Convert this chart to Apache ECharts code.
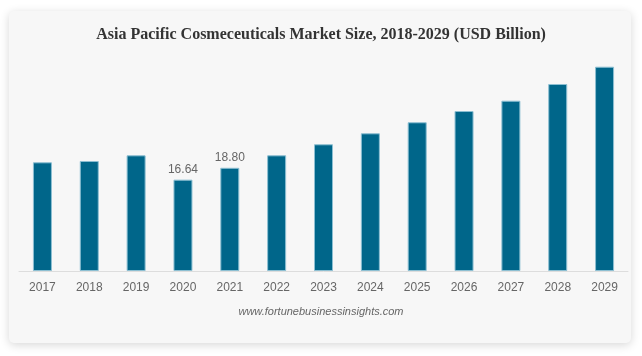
<!DOCTYPE html>
<html>
<head>
<meta charset="utf-8">
<script src="https://cdn.jsdelivr.net/npm/echarts@6/dist/echarts.min.js"></script>
<style>
  html, body { margin: 0; padding: 0; background: #ffffff; width: 642px; height: 356px; overflow: hidden; }
  #card { position: absolute; left: 9px; top: 11px; width: 622px; height: 332px; background: #f7f7f7; border-radius: 5px; box-shadow: 0 2px 10px rgba(0,0,0,0.16); }
  #chart { position: absolute; left: 0; top: 0; width: 642px; height: 356px; }
</style>
</head>
<body>
<div id="card"></div>
<div id="chart"></div>
<script>
const titleText = 'Asia Pacific Cosmeceuticals Market Size, 2018-2029 (USD Billion)';
const sourceText = 'www.fortunebusinessinsights.com';
const years = ['2017','2018','2019','2020','2021','2022','2023','2024','2025','2026','2027','2028','2029'];
const marketSize = [19.80, 20.04, 21.07, 16.64, 18.80, 21.07, 23.08, 25.08, 27.09, 29.14, 31.02, 34.06, 37.21];
const labelledYears = ['2020', '2021'];

const chart = echarts.init(document.getElementById('chart'), null, { renderer: 'canvas' });
chart.setOption({
  backgroundColor: 'transparent',
  animation: false,
  title: {
    text: titleText,
    left: 'center',
    top: 22,
    textStyle: { fontFamily: '"Liberation Serif", "Times New Roman", serif', fontWeight: 'bold', fontSize: 16, color: '#333333' }
  },
  grid: { left: 19, right: 14, top: 51.4, bottom: 85, containLabel: false },
  xAxis: {
    type: 'category',
    data: years,
    axisLine: { lineStyle: { color: '#dddddd', width: 1 } },
    axisTick: { show: false },
    axisLabel: { color: '#666666', fontSize: 12, fontFamily: '"Liberation Sans", Arial, sans-serif', margin: 11 }
  },
  yAxis: { type: 'value', min: 0, max: 40, show: false, splitLine: { show: false } },
  series: [{
    type: 'bar',
    data: marketSize.map((v, i) => ({
      value: v,
      label: { show: labelledYears.includes(years[i]) }
    })),
    barWidth: 19,
    itemStyle: { color: '#00668a', borderColor: '#8cbfd2', borderWidth: 1 },
    label: {
      show: false,
      position: 'top',
      distance: 4,
      color: '#666666',
      fontSize: 12,
      fontFamily: '"Liberation Sans", Arial, sans-serif',
      formatter: p => p.value.toFixed(2)
    }
  }],
  graphic: [{
    type: 'text',
    left: 'center',
    top: 306,
    style: {
      text: sourceText,
      fill: '#666666',
      font: 'italic 11px "Liberation Sans", Arial, sans-serif'
    }
  }]
});
</script>
</body>
</html>
